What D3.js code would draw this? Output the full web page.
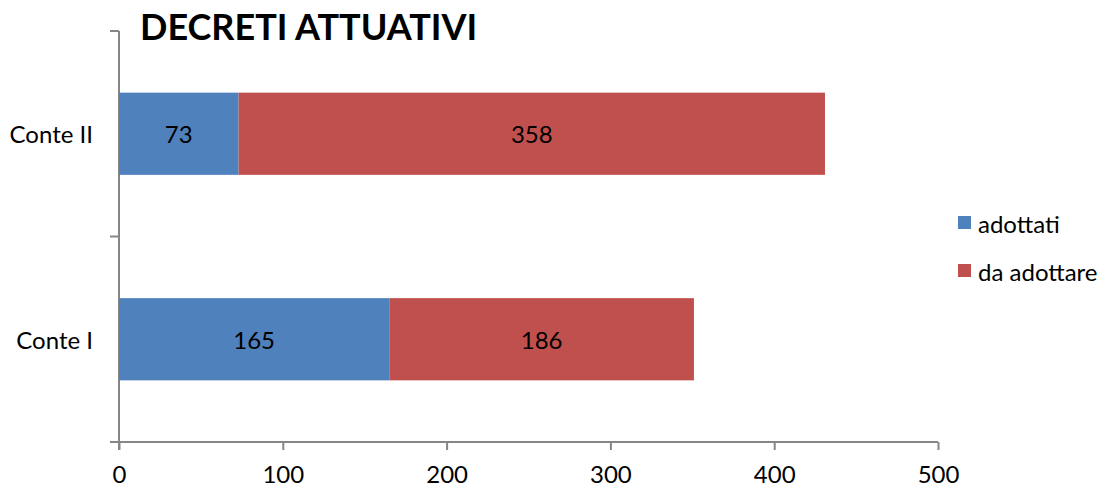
<!DOCTYPE html>
<html lang="en">
<head>
  <meta charset="UTF-8">
  <title>Decreti attuativi</title>
  <script src="https://d3js.org/d3.v7.min.js"></script>
  <style>
    body { margin: 0; background: #fff; font-family: Lato, "Noto Sans", sans-serif; }
    .axis path, .axis line { stroke: #868686; stroke-width: 2px; }
    .axis text { font-family: Lato, "Noto Sans", sans-serif; font-size: 24px; fill: #000; }
  </style>
</head>
<body>
  <svg id="chart" width="1109" height="488"></svg>
  <script>
    // data
    const categories = ["Conte I", "Conte II"];
    const seriesNames = ["adottati", "da adottare"];
    const adottati = [165, 73];
    const daAdottare = [186, 358];
    const xTicks = [0, 100, 200, 300, 400, 500];

    const colors = { "adottati": "#4F81BD", "da adottare": "#C0504D" };

    const svg = d3.select("#chart");
    const margin = { top: 31, left: 119 };
    const width = 819, height = 411;

    const g = svg.append("g").attr("transform", `translate(${margin.left},${margin.top})`);

    const x = d3.scaleLinear().domain([0, 500]).range([0, width]);
    // Conte II on top
    const y = d3.scaleBand().domain(categories.slice().reverse()).range([0, height]).padding(0);

    const rows = categories.map((c, i) => ({ cat: c, a: adottati[i], b: daAdottare[i] }));
    const barH = y.bandwidth() * 0.4;

    // x axis
    const xAxis = g.append("g").attr("class", "axis")
      .attr("transform", `translate(0,${height})`)
      .call(d3.axisBottom(x).tickValues(xTicks).tickSize(8).tickSizeOuter(0).tickPadding(16));
    xAxis.select(".domain").attr("d", `M-9,0H${width}`);

    // y axis with ticks at band boundaries
    const yAxis = g.append("g").attr("class", "axis");
    yAxis.append("line").attr("x1", 0).attr("x2", 0).attr("y1", 0).attr("y2", height + 8);
    yAxis.selectAll(".bt").data([0, y.bandwidth()]).join("line")
      .attr("x1", -9).attr("x2", 0).attr("y1", d => d).attr("y2", d => d);
    yAxis.selectAll("text").data(categories).join("text")
      .attr("x", -26).attr("y", d => y(d) + y.bandwidth() / 2)
      .attr("text-anchor", "end").attr("dominant-baseline", "central")
      .text(d => d);

    // bars
    const row = g.selectAll(".row").data(rows).join("g").attr("class", "row");
    row.append("rect")
      .attr("x", x(0)).attr("y", d => y(d.cat) + (y.bandwidth() - barH) / 2)
      .attr("width", d => x(d.a) - x(0)).attr("height", barH)
      .attr("fill", colors["adottati"]);
    row.append("rect")
      .attr("x", d => x(d.a)).attr("y", d => y(d.cat) + (y.bandwidth() - barH) / 2)
      .attr("width", d => x(d.a + d.b) - x(d.a)).attr("height", barH)
      .attr("fill", colors["da adottare"]);
    row.append("text")
      .attr("x", d => x(d.a / 2)).attr("y", d => y(d.cat) + y.bandwidth() / 2)
      .attr("text-anchor", "middle").attr("dominant-baseline", "central")
      .attr("font-size", 24).text(d => d.a);
    row.append("text")
      .attr("x", d => x(d.a + d.b / 2)).attr("y", d => y(d.cat) + y.bandwidth() / 2)
      .attr("text-anchor", "middle").attr("dominant-baseline", "central")
      .attr("font-size", 24).text(d => d.b);

    // title
    svg.append("text").attr("x", 140).attr("y", 40)
      .attr("font-size", 36).attr("font-weight", "bold")
      .text("DECRETI ATTUATIVI");

    // legend
    const legend = svg.append("g").attr("transform", "translate(958,216)");
    seriesNames.forEach((s, i) => {
      const r = legend.append("g").attr("transform", `translate(0,${i * 48})`);
      r.append("rect").attr("width", 13).attr("height", 13).attr("fill", colors[s]);
      r.append("text").attr("x", 20).attr("y", 7).attr("dominant-baseline", "central")
        .attr("font-size", 24).text(s);
    });
  </script>
</body>
</html>
